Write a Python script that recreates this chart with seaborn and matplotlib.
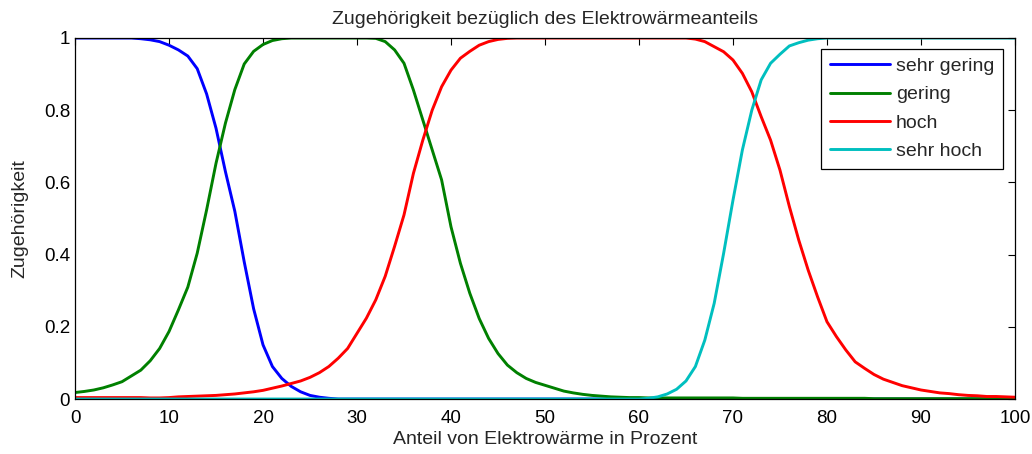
import numpy as np
import pandas as pd
import matplotlib
matplotlib.use("Agg")
import matplotlib.pyplot as plt
import seaborn as sns

# Anteil Elektrowaerme in Prozent (x-Achse)
anteil = list(range(0, 101))

# Zugehoerigkeitswerte
sehr_gering = ([1.0] * 7 +
               [0.998, 0.995, 0.99, 0.98, 0.967, 0.95, 0.915, 0.845, 0.75, 0.63,
                0.52, 0.38, 0.25, 0.15, 0.09, 0.057, 0.035, 0.02, 0.01, 0.005, 0.002] +
               [0.0] * 73)

gering = ([0.018, 0.021, 0.025, 0.031, 0.039, 0.048, 0.064, 0.08, 0.106, 0.14,
           0.187, 0.247, 0.31, 0.404, 0.524, 0.653, 0.764, 0.857, 0.928, 0.963,
           0.982, 0.993, 0.998] +
          [1.0] * 9 +
          [0.999, 0.99, 0.967, 0.93, 0.856, 0.773, 0.69, 0.607, 0.477, 0.376,
           0.293, 0.223, 0.168, 0.126, 0.094, 0.073, 0.057, 0.046, 0.038, 0.03,
           0.022, 0.017, 0.013, 0.01, 0.008, 0.006, 0.005, 0.004, 0.004] +
          [0.003] * 10 + [0.002] * 14 + [0.001] * 16)

hoch = ([0.004] * 8 +
        [0.003, 0.003, 0.004, 0.006, 0.007, 0.008, 0.009, 0.01, 0.012, 0.014,
         0.017, 0.02, 0.024, 0.03, 0.036, 0.043, 0.05, 0.06, 0.073, 0.09,
         0.113, 0.14, 0.182, 0.224, 0.275, 0.34, 0.423, 0.51, 0.625, 0.717,
         0.8, 0.865, 0.911, 0.944, 0.963, 0.98, 0.99, 0.996, 0.999] +
        [1.0] * 19 +
        [0.997, 0.99, 0.976, 0.962, 0.939, 0.902, 0.851, 0.782, 0.717, 0.634,
         0.533, 0.44, 0.357, 0.283, 0.214, 0.173, 0.136, 0.103, 0.085, 0.068,
         0.055, 0.046, 0.037, 0.031, 0.025, 0.021, 0.017, 0.015, 0.012, 0.01,
         0.009, 0.007, 0.007, 0.006, 0.005])

sehr_hoch = ([0.0] * 61 +
             [0.002, 0.006, 0.014, 0.027, 0.05, 0.09, 0.163, 0.265, 0.403, 0.551,
              0.69, 0.8, 0.884, 0.93, 0.955, 0.978, 0.987, 0.994, 0.998] +
             [1.0] * 21)

namen = ["sehr gering", "gering", "hoch", "sehr hoch"]
farben = ["#0000ff", "#008000", "#ff0000", "#00bfbf"]

df = pd.DataFrame({
    "anteil": anteil * 4,
    "wert": sehr_gering + gering + hoch + sehr_hoch,
    "klasse": np.repeat(namen, len(anteil)),
})

sns.set_style("white")
plt.rcParams['font.family'] = ['Liberation Sans', 'DejaVu Sans']
fs = 14
fs_tick = 13.5
plt.rcParams['font.size'] = fs

fig = plt.figure(figsize=(10.32, 4.54), dpi=100)
ax = fig.add_axes([0.0727, 0.1211, 0.9108, 0.7952])

sns.lineplot(data=df, x="anteil", y="wert", hue="klasse", hue_order=namen,
             palette=farben, linewidth=2.1, ax=ax, estimator=None)

ax.set_xlim(0, 100)
ax.set_ylim(0, 1)
ax.set_xticks(range(0, 101, 10))
ax.set_yticks([0, 0.2, 0.4, 0.6, 0.8, 1])
ax.set_yticklabels(["0", "0.2", "0.4", "0.6", "0.8", "1"])
ax.tick_params(direction="in", length=5, width=0.8, top=True, right=True,
               labelsize=fs_tick, colors="black")
ax.tick_params(axis="x", pad=8)
ax.tick_params(axis="y", pad=3.5)
for s in ax.spines.values():
    s.set_color("black")
    s.set_linewidth(0.9)

ax.set_title("Zugehörigkeit bezüglich des Elektrowärmeanteils", fontsize=fs, pad=10)
ax.set_xlabel("Anteil von Elektrowärme in Prozent", fontsize=fs, labelpad=3)
ax.set_ylabel("Zugehörigkeit", fontsize=fs, labelpad=11)

leg = ax.legend(loc="upper right", bbox_to_anchor=(0.987, 0.97), borderaxespad=0,
                fontsize=fs, handlelength=3.1, handletextpad=0.3,
                labelspacing=0.55, fancybox=False, framealpha=1,
                edgecolor="black", borderpad=0.45)
leg.get_frame().set_linewidth(0.9)
for h in leg.get_lines():
    h.set_linewidth(2.1)

fig.savefig("out.png", dpi=100)
